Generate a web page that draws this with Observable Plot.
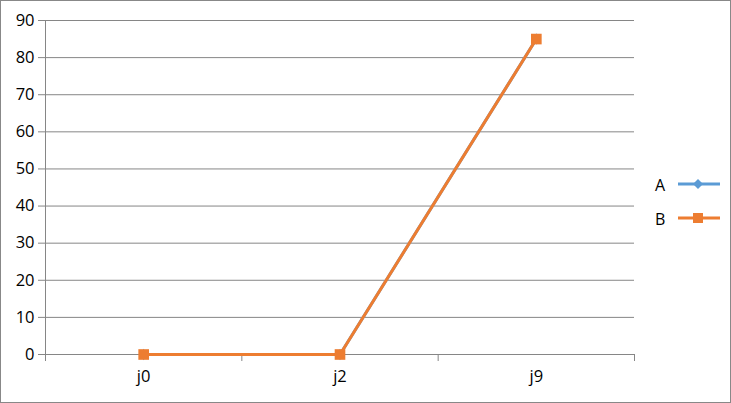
<!DOCTYPE html>
<html><head><meta charset="utf-8">
<script src="https://cdn.jsdelivr.net/npm/d3@7"></script>
<script src="https://cdn.jsdelivr.net/npm/@observablehq/plot@0.6"></script>
<style>
body{margin:0;background:#fff}
#wrap{position:relative;width:731px;height:403px;box-sizing:border-box;border:1px solid #888;background:#fff;font-family:"Open Sans",sans-serif;overflow:hidden}
.leg{position:absolute;font-size:16px;line-height:20px;color:#000}
.legsym{position:absolute}
</style></head><body><div id="wrap"></div>
<script>
const categories = ["j0", "j2", "j9"];
const seriesNames = ["A", "B"];
const seriesA = [0, 0, 85];
const seriesB = [0, 0, 85];
const yTicks = [0, 10, 20, 30, 40, 50, 60, 70, 80, 90];
const colors = {A: "#5B9BD5", B: "#ED7D31"};

const rows = (vals) => vals.map((v, i) => ({x: i + 0.5, cat: categories[i], y: v}));
const dataA = rows(seriesA);
const dataB = rows(seriesB);
const bandEdges = categories.map((c, i) => i).concat([categories.length]);
const bandCenters = categories.map((c, i) => i + 0.5);
const grid = "#868686";

const chart = Plot.plot({
  width: 729,
  height: 401,
  marginLeft: 44,
  marginRight: 96,
  marginTop: 19,
  marginBottom: 48,
  style: {fontFamily: '"Open Sans", sans-serif', fontSize: "16px", background: "#fff", color: "#000"},
  x: {domain: [0, categories.length]},
  y: {domain: [0, 90]},
  marks: [
    Plot.ruleY(yTicks, {stroke: grid, strokeWidth: 1}),
    Plot.ruleX([0], {stroke: grid, strokeWidth: 1}),
    Plot.axisY({ticks: yTicks, tickSize: 7, tickPadding: 4, stroke: grid, fill: "#000", fontSize: 16.5, label: null}),
    Plot.axisX({ticks: bandEdges, tickSize: 7, tickFormat: () => "", stroke: grid, label: null}),
    Plot.axisX({ticks: bandCenters, tickSize: 0, tickPadding: 16, tickFormat: (d) => categories[Math.floor(d)], fill: "#000", fontSize: 16.5, label: null}),
    Plot.line(dataA, {x: "x", y: "y", stroke: colors.A, strokeWidth: 3}),
    Plot.dot(dataA, {x: "x", y: "y", symbol: "diamond", fill: colors.A, r: 3.5}),
    Plot.line(dataB, {x: "x", y: "y", stroke: colors.B, strokeWidth: 3}),
    Plot.dot(dataB, {x: "x", y: "y", symbol: "square", fill: colors.B, r: 6})
  ]
});
const wrap = document.getElementById("wrap");
wrap.appendChild(chart);

// legend
const legendY = {A: 183, B: 217};
seriesNames.forEach((name) => {
  const t = document.createElement("div");
  t.className = "leg";
  t.textContent = name;
  t.style.left = "654px";
  t.style.top = (legendY[name] - 9) + "px";
  wrap.appendChild(t);
  const s = d3.create("svg").attr("class", "legsym").attr("width", 44).attr("height", 16)
    .style("left", "676px").style("top", (legendY[name] - 8) + "px");
  s.append("line").attr("x1", 1).attr("x2", 43).attr("y1", 8).attr("y2", 8).attr("stroke", colors[name]).attr("stroke-width", 3);
  if (name === "A") {
    s.append("path").attr("d", "M21,3 L26,8 L21,13 L16,8 Z").attr("fill", colors[name]);
  } else {
    s.append("rect").attr("x", 16).attr("y", 3).attr("width", 10).attr("height", 10).attr("fill", colors[name]);
  }
  wrap.appendChild(s.node());
});
</script>
</body></html>
